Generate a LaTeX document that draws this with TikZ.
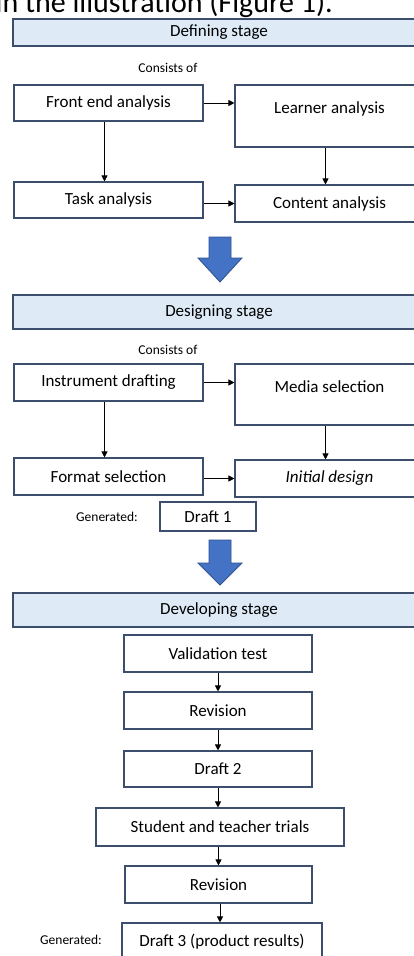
\documentclass[tikz,border=0pt]{standalone}
\usepackage{fontspec}
\setmainfont{Carlito}
\usetikzlibrary{arrows.meta,calc}
\definecolor{bord}{RGB}{60,78,108}
\definecolor{barfill}{RGB}{222,235,247}
\definecolor{arrfill}{RGB}{68,114,196}
\definecolor{arrbord}{RGB}{47,82,143}
\begin{document}
\begin{tikzpicture}[x=1pt,y=-1pt,
  box/.style={draw=bord,line width=1.1pt,fill=white,inner sep=0pt,font=\fontsize{17}{20}\selectfont},
  bar/.style={box,fill=barfill},
  lbl/.style={inner sep=0pt,font=\fontsize{17}{20}\selectfont},
  small/.style={font=\fontsize{13.5}{16}\selectfont,inner sep=0pt},
  conn/.style={-{Triangle[length=6pt,width=6pt]},line width=1pt,black},
  bigarrow/.style={draw=arrbord,fill=arrfill,line width=0.8pt,line join=miter}]
\clip (0,0) rectangle (414,956);
\fill[white] (0,0) rectangle (414,956);
% cut-off sentence at top
\node[anchor=base east,inner sep=0pt,font=\fontsize{30}{36}\selectfont] (intro) at (333,12) {in the illustration (Figure 1).};
% ---------- Defining stage ----------
\node[bar,minimum width=412,minimum height=27] (defbar) at (219,32.5) {Defining stage};
\node[small] (cons1) at (168,68) {Consists of};
\node[box,minimum width=189,minimum height=36] (fea) at (108.5,103) {Front end analysis};
\node[box,minimum width=189,minimum height=62] (la) at (329.5,116) {};
\node[lbl] (latext) at (329.5,109) {Learner analysis};
\node[box,minimum width=189,minimum height=36] (ta) at (108.5,200) {Task analysis};
\node[box,minimum width=189,minimum height=37] (ca) at (329.5,203.5) {Content analysis};
\draw[conn] (fea.east) -- (fea.east -| la.west);
\draw[conn] ([xshift=-4pt]fea.south) -- ([xshift=-4pt]fea.south |- ta.north);
\draw[conn] ([xshift=-4pt]la.south) -- ([xshift=-4pt]la.south |- ca.north);
\draw[conn] (ca.west -| ta.east) -- (ca.west);
% big arrow 1
\draw[bigarrow] (209,237) -- (231,237) -- (231,258) -- (242,258) -- (220,282) -- (198,258) -- (209,258) -- cycle;
% ---------- Designing stage ----------
\node[bar,minimum width=412,minimum height=34] (desbar) at (219,312) {Designing stage};
\node[small] (cons2) at (168,350) {Consists of};
\node[box,minimum width=189,minimum height=37] (idr) at (108.5,382.5) {Instrument drafting};
\node[box,minimum width=189,minimum height=61] (ms) at (329.5,394.5) {};
\node[lbl] (mstext) at (329.5,387) {Media selection};
\node[box,minimum width=189,minimum height=37] (fs) at (108.5,476.5) {Format selection};
\node[box,minimum width=189,minimum height=37] (ind) at (329.5,478.5) {\itshape Initial design};
\draw[conn] (idr.east) -- (idr.east -| ms.west);
\draw[conn] ([xshift=-4pt]idr.south) -- ([xshift=-4pt]idr.south |- fs.north);
\draw[conn] ([xshift=-4pt]ms.south) -- ([xshift=-4pt]ms.south |- ind.north);
\draw[conn] (ind.west -| fs.east) -- (ind.west);
\node[small] (gen1) at (107,517) {Generated:};
\node[box,minimum width=96,minimum height=29] (d1) at (208,516.5) {Draft 1};
% big arrow 2
\draw[bigarrow] (209,540) -- (231,540) -- (231,563) -- (242,563) -- (220,585) -- (198,563) -- (209,563) -- cycle;
% ---------- Developing stage ----------
\node[bar,minimum width=412,minimum height=34] (devbar) at (219,610) {Developing stage};
\node[box,minimum width=188,minimum height=37] (vt) at (218,653.5) {Validation test};
\node[box,minimum width=188,minimum height=37] (rev1) at (218,710.5) {Revision};
\node[box,minimum width=188,minimum height=36] (d2) at (218,769) {Draft 2};
\node[box,minimum width=248,minimum height=38] (st) at (220,827) {Student and teacher trials};
\node[box,minimum width=187,minimum height=37] (rev2) at (218.5,884.5) {Revision};
\node[box,minimum width=200,minimum height=37] (d3) at (222,941.5) {Draft 3 (product results)};
\node[small] (gen2) at (71,940) {Generated:};
\draw[conn] (vt.south) -- (rev1.north);
\draw[conn] (rev1.south) -- (d2.north);
\draw[conn] (d2.south) -- (d2.south |- st.north);
\draw[conn] (st.south -| rev2.south) -- (rev2.north);
\draw[conn] ([xshift=1.5pt]rev2.south) -- ([xshift=1.5pt]rev2.south |- d3.north);
\end{tikzpicture}
\end{document}
